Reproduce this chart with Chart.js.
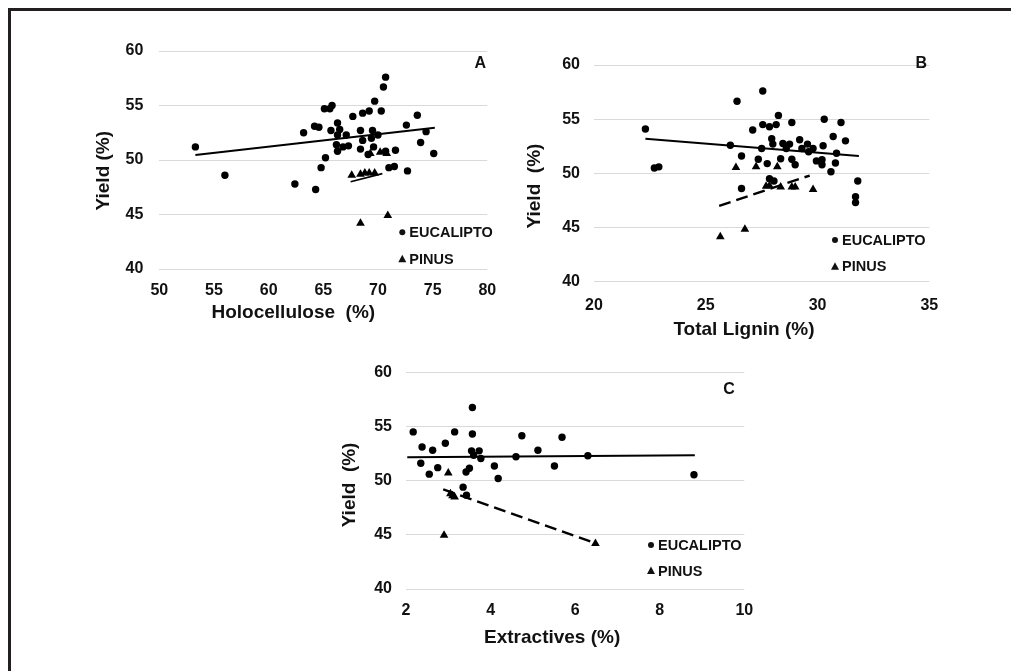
<!DOCTYPE html>
<html>
<head>
<meta charset="utf-8">
<script src="https://cdn.jsdelivr.net/npm/chart.js@4.4.1/dist/chart.umd.min.js"></script>
<style>
  html, body { margin: 0; padding: 0; background: #fff; }
  #page { position: relative; width: 1011px; height: 671px; overflow: hidden; }
  #frame { position: absolute; left: 8px; top: 8px; right: -10px; bottom: -10px;
           border-top: 3px solid #231f20; border-left: 3px solid #231f20; }
  .panel { position: absolute; }
</style>
</head>
<body>
<div id="page">
  <div id="frame"></div>
  <div class="panel" style="left:60px;top:20px;width:450px;height:310px"><canvas id="chartA"></canvas></div>
  <div class="panel" style="left:520px;top:20px;width:450px;height:330px"><canvas id="chartB"></canvas></div>
  <div class="panel" style="left:300px;top:340px;width:480px;height:320px"><canvas id="chartC"></canvas></div>
</div>
<script>
// yield axis, shared by the three panels
const yieldTicks = [40, 45, 50, 55, 60];

// A - holocellulose (%) vs yield (%)
const holoTicks = [50, 55, 60, 65, 70, 75, 80];
const holoEucalipto = [
  [53.3, 51.2], [56.0, 48.6], [62.4, 47.8], [63.2, 52.5], [64.2, 53.1], [64.6, 53.0],
  [64.3, 47.3], [64.8, 49.3], [65.2, 50.2], [65.1, 54.7], [65.6, 54.7], [65.8, 55.0],
  [65.7, 52.7], [66.3, 53.4], [66.5, 52.8], [66.3, 52.3], [66.2, 51.4], [66.3, 50.8],
  [66.8, 51.2], [67.1, 52.3], [67.3, 51.3], [67.7, 54.0], [68.4, 52.7], [68.6, 54.3],
  [68.4, 51.0], [68.6, 51.8], [69.2, 54.5], [69.7, 55.4], [69.5, 52.7], [69.4, 52.0],
  [69.6, 51.2], [70.0, 52.3], [69.1, 50.5], [70.3, 54.5], [70.5, 56.7], [70.7, 57.6],
  [70.7, 50.8], [71.0, 49.3], [71.5, 49.4], [71.6, 50.9], [72.7, 49.0], [72.6, 53.2],
  [73.6, 54.1], [73.9, 51.6], [74.4, 52.6], [75.1, 50.6]
];
const holoPinus = [
  [67.6, 48.6], [68.4, 48.7], [68.8, 48.8], [69.2, 48.8], [69.7, 48.8],
  [69.3, 50.6], [70.2, 50.7], [70.8, 50.6], [68.4, 44.2], [70.9, 44.9]
];
const holoTrendEucalipto = [[53.3, 50.45], [75.2, 52.95]];
const holoTrendPinus = [[67.5, 48.0], [70.4, 48.75]];

// B - total lignin (%) vs yield (%)
const ligninTicks = [20, 25, 30, 35];
const ligninEucalipto = [
  [22.3, 54.1], [22.7, 50.5], [22.9, 50.6], [26.1, 52.6], [26.4, 56.65], [26.6, 51.6],
  [26.6, 48.6], [27.1, 54.0], [27.35, 51.3], [27.5, 52.3], [27.55, 54.5], [27.55, 57.6],
  [27.75, 50.9], [27.85, 54.3], [27.95, 53.2], [28.0, 52.7], [27.85, 49.5], [28.05, 49.3],
  [28.15, 54.5], [28.25, 55.35], [28.35, 51.35], [28.45, 52.75], [28.6, 52.3], [28.75, 52.7],
  [28.85, 54.7], [28.85, 51.3], [29.0, 50.8], [29.2, 53.1], [29.3, 52.3], [29.55, 52.7],
  [29.6, 52.0], [29.8, 52.3], [29.95, 51.15], [30.2, 51.25], [30.2, 50.8], [30.25, 52.55],
  [30.3, 55.0], [30.6, 50.15], [30.7, 53.4], [30.8, 50.95], [30.85, 51.85], [31.05, 54.7],
  [31.25, 53.0], [31.8, 49.3], [31.7, 47.85], [31.7, 47.3]
];
const ligninPinus = [
  [26.35, 50.55], [27.25, 50.6], [28.2, 50.6], [27.7, 48.8], [27.85, 48.85], [28.35, 48.75],
  [28.85, 48.75], [29.0, 48.75], [29.8, 48.5], [25.65, 44.15], [26.75, 44.85]
];
const ligninTrendEucalipto = [[22.3, 53.2], [31.85, 51.6]];
const ligninTrendPinus = [[25.6, 47.0], [29.65, 49.8]];

// C - extractives (%) vs yield (%)
const extrTicks = [2, 4, 6, 8, 10];
const extrEucalipto = [
  [2.17, 54.5], [2.38, 53.1], [2.35, 51.6], [2.55, 50.6], [2.63, 52.8], [2.75, 51.2],
  [2.93, 53.45], [3.15, 54.5], [3.35, 49.4], [3.42, 50.8], [3.43, 48.65], [3.5, 51.15],
  [3.57, 56.75], [3.57, 54.3], [3.55, 52.75], [3.6, 52.35], [3.73, 52.75], [3.77, 52.05],
  [4.09, 51.35], [4.18, 50.2], [4.6, 52.2], [4.74, 54.15], [5.12, 52.8], [5.51, 51.35],
  [5.69, 54.0], [6.3, 52.3], [8.81, 50.55]
];
const extrPinus = [[3.0, 50.7], [3.05, 48.8], [3.1, 48.6], [3.15, 48.5], [2.9, 44.95], [6.48, 44.2]];
const extrTrendEucalipto = [[2.03, 52.15], [8.83, 52.35]];
const extrTrendPinus = [[2.88, 49.2], [6.5, 44.2]];

const seriesNames = ["EUCALIPTO", "PINUS"];

const FONT = '"Liberation Sans", Arial, sans-serif';
Chart.defaults.font.family = FONT;
Chart.defaults.color = "#111";

const pts = (arr) => arr.map(([x, y]) => ({ x, y }));

// panel letter, axis titles and the in-plot legend
const panelDecor = {
  id: "panelDecor",
  afterDraw(chart, args, o) {
    const { ctx, chartArea: ca } = chart;
    const cx = (ca.left + ca.right) / 2;
    const cy = (ca.top + ca.bottom) / 2;
    ctx.save();
    ctx.fillStyle = "#111";
    ctx.textAlign = "center";
    ctx.textBaseline = "middle";

    ctx.font = "bold 16px " + FONT;
    ctx.fillText(o.letter, ca.right + o.letterAt[0], ca.top + o.letterAt[1]);

    ctx.font = "bold 19px " + FONT;
    ctx.fillText(o.xTitle, cx + o.xTitleAt[0], ca.bottom + o.xTitleAt[1]);
    ctx.save();
    ctx.translate(ca.left + o.yTitleAt[0], cy + o.yTitleAt[1]);
    ctx.rotate(-Math.PI / 2);
    ctx.fillText(o.yTitle, 0, 0);
    ctx.restore();

    // legend
    const lx = ca.left + o.legendAt[0];
    ctx.font = "bold 14.5px " + FONT;
    ctx.textAlign = "left";
    seriesNames.forEach((name, i) => {
      const ly = ca.top + o.legendAt[1] + i * o.legendGap;
      ctx.beginPath();
      if (i === 0) {
        ctx.arc(lx, ly, 3, 0, Math.PI * 2);
      } else {
        ctx.moveTo(lx, ly - 4.5);
        ctx.lineTo(lx + 4, ly + 3);
        ctx.lineTo(lx - 4, ly + 3);
        ctx.closePath();
      }
      ctx.fill();
      ctx.fillText(name, lx + 7, ly + 0.5);
    });
    ctx.restore();
  }
};

function makePanel(id, p) {
  new Chart(document.getElementById(id), {
    type: "scatter",
    data: {
      datasets: [
        { data: pts(p.trendEuc), showLine: true, borderColor: "#000", borderWidth: 2, pointRadius: 0 },
        { data: pts(p.trendPin), showLine: true, borderColor: "#000", borderWidth: p.pinWidth,
          borderDash: p.pinDash, pointRadius: 0 },
        { label: seriesNames[0], data: pts(p.euc), pointStyle: "circle", pointRadius: 3.7,
          backgroundColor: "#000", borderWidth: 0 },
        { label: seriesNames[1], data: pts(p.pin), pointStyle: "triangle", pointRadius: 5,
          backgroundColor: "#000", borderWidth: 0 }
      ]
    },
    options: {
      responsive: true,
      maintainAspectRatio: false,
      animation: false,
      events: [],
      layout: { padding: p.padding },
      plugins: {
        legend: { display: false },
        tooltip: { enabled: false },
        panelDecor: p.decor
      },
      scales: {
        x: {
          type: "linear",
          min: p.xTicks[0],
          max: p.xTicks[p.xTicks.length - 1],
          ticks: { stepSize: p.xTicks[1] - p.xTicks[0], padding: p.xPad, maxRotation: 0,
                   font: { size: 16, weight: "bold" }, color: "#111" },
          grid: { display: false, drawTicks: false },
          border: { display: false },
          afterFit: (s) => { s.height = 40; }
        },
        y: {
          min: yieldTicks[0],
          max: yieldTicks[yieldTicks.length - 1],
          ticks: { stepSize: yieldTicks[1] - yieldTicks[0], padding: p.yPad,
                   font: { size: 16, weight: "bold" }, color: "#111" },
          grid: { color: "#d9d9d9", lineWidth: 1, drawTicks: false },
          border: { display: false },
          afterFit: (s) => { s.width = p.yWidth; }
        }
      }
    },
    plugins: [panelDecor]
  });
}

makePanel("chartA", {
  euc: holoEucalipto, pin: holoPinus, trendEuc: holoTrendEucalipto, trendPin: holoTrendPinus,
  pinDash: [], pinWidth: 1.6, xTicks: holoTicks,
  padding: { top: 31, right: 22.7, bottom: 21, left: 0 }, yWidth: 99.3, xPad: 12, yPad: 16,
  decor: { letter: "A", letterAt: [-7, 13], xTitle: "Holocellulose  (%)", xTitleAt: [-30, 44],
           yTitle: "Yield (%)", yTitleAt: [-56, 10.7], legendAt: [243, 181.3], legendGap: 27 }
});

makePanel("chartB", {
  euc: ligninEucalipto, pin: ligninPinus, trendEuc: ligninTrendEucalipto, trendPin: ligninTrendPinus,
  pinDash: [12, 6], pinWidth: 2.4, xTicks: ligninTicks,
  padding: { top: 45, right: 40.7, bottom: 28.3, left: 0 }, yWidth: 74, xPad: 14, yPad: 14,
  decor: { letter: "B", letterAt: [-8, -1], xTitle: "Total Lignin (%)", xTitleAt: [-17.7, 48.3],
           yTitle: "Yield  (%)", yTitleAt: [-59, 12.7], legendAt: [241, 175], legendGap: 26.7 }
});

makePanel("chartC", {
  euc: extrEucalipto, pin: extrPinus, trendEuc: extrTrendEucalipto, trendPin: extrTrendPinus,
  pinDash: [12, 6], pinWidth: 2.4, xTicks: extrTicks,
  padding: { top: 32.3, right: 35.7, bottom: 31, left: 0 }, yWidth: 106, xPad: 12, yPad: 14,
  decor: { letter: "C", letterAt: [-15.3, 17.7], xTitle: "Extractives (%)", xTitleAt: [-23, 48.3],
           yTitle: "Yield  (%)", yTitleAt: [-56.7, 4.3], legendAt: [245, 172.7], legendGap: 26 }
});
</script>
</body>
</html>
